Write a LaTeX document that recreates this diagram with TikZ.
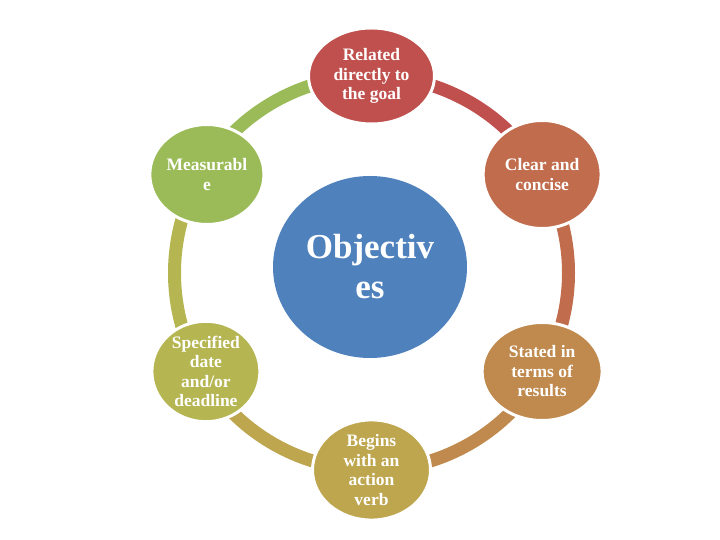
\documentclass[tikz,border=0pt]{standalone}
\usepackage{fontspec}
\setmainfont{Liberation Serif}
\usetikzlibrary{shapes.geometric,calc}

\definecolor{hubblue}{HTML}{4F81BD}
\definecolor{relred}{HTML}{C0504D}
\definecolor{clearorange}{HTML}{C06C4D}
\definecolor{statedtan}{HTML}{C0894D}
\definecolor{beginsolive}{HTML}{BDA64E}
\definecolor{specolive}{HTML}{B5B552}
\definecolor{measgreen}{HTML}{9BBB59}

\begin{document}
\begin{tikzpicture}[
    x=1pt, y=1pt,
    hub/.style={ellipse, fill=hubblue, text=white, inner sep=0pt,
        minimum width=194pt, minimum height=182pt, align=center,
        font={\bfseries\fontsize{35}{40}\selectfont}},
    petal/.style={ellipse, fill=#1, draw=white, line width=3pt, text=white,
        inner sep=0pt, align=center,
        font={\bfseries\fontsize{17.5}{19.5}\selectfont}},
    ring/.style={line width=13pt, draw=#1}
]

    \useasboundingbox (0,0) rectangle (720,540);

    \coordinate (mid) at (371.5,267);

    % Draw ring segments
    \draw [ring=measgreen]   ($(mid)+(150:197)$) coordinate (p1) arc[start angle=150, end angle=90, radius=197pt];
    \draw [ring=relred]      ($(mid)+(90:197)$) coordinate (p2) arc[start angle=90, end angle=30, radius=197pt];
    \draw [ring=clearorange] ($(mid)+(30:197)$) coordinate (p3) arc[start angle=30, end angle=-30, radius=197pt];
    \draw [ring=statedtan]   ($(mid)+(-30:197)$) coordinate (p4) arc[start angle=-30, end angle=-90, radius=197pt];
    \draw [ring=beginsolive] ($(mid)+(-90:197)$) coordinate (p5) arc[start angle=-90, end angle=-150, radius=197pt];
    \draw [ring=specolive]   ($(mid)+(-150:197)$) coordinate (p6) arc[start angle=-150, end angle=-210, radius=197pt];

    % Draw centre
    \node [hub] (obj) at (370,273) {Objectiv\\es};

    % Draw petals
    \node [petal=relred, minimum width=126pt, minimum height=96pt] (rel) at (p2) {Related\\directly to\\the goal};
    \node [petal=clearorange, minimum width=118pt, minimum height=108pt] (clear) at (p3) {Clear and\\concise};
    \node [petal=statedtan, minimum width=120pt, minimum height=98pt] (stated) at (p4) {Stated in\\terms of\\results};
    \node [petal=beginsolive, minimum width=118pt, minimum height=98pt] (begins) at (p5) {Begins\\with an\\action\\verb};
    \node [petal=specolive, minimum width=108pt, minimum height=98pt, xshift=5pt] (spec) at (p6) {Specified\\date\\and/or\\deadline};
    \node [petal=measgreen, minimum width=110pt, minimum height=100pt, xshift=6pt] (meas) at (p1) {Measurabl\\e};

\end{tikzpicture}
\end{document}
